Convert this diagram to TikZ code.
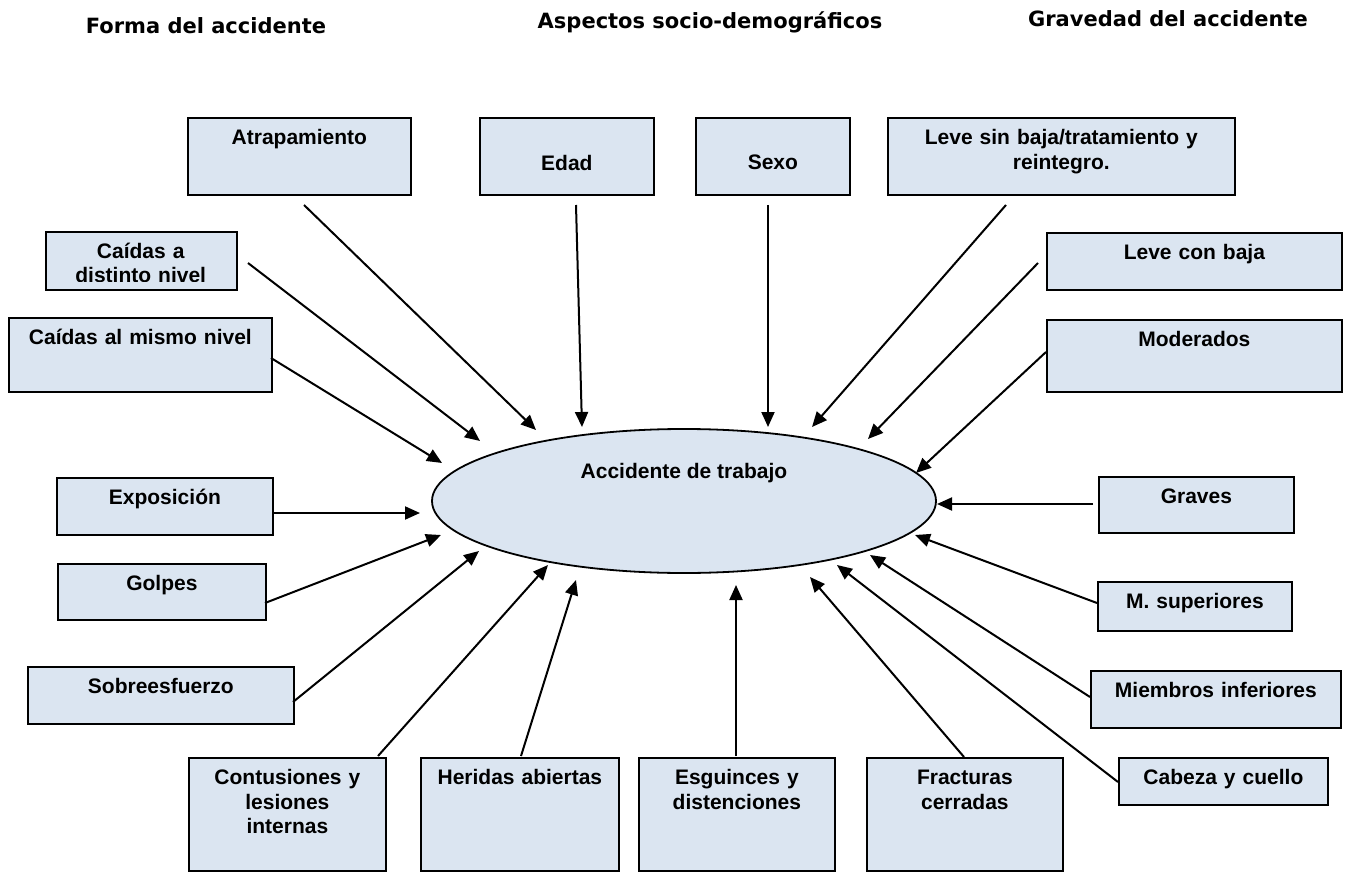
\documentclass[tikz,border=0pt]{standalone}
\usepackage{fontspec}
\setmainfont{Liberation Sans}
\newfontfamily\titulofont{DejaVu Sans}
\usetikzlibrary{arrows.meta,shapes.geometric}
\definecolor{azulcaja}{RGB}{219,229,241}

\begin{document}
\begin{tikzpicture}[x=1pt,y=-1pt,textocaja/.style={anchor=north west,inner sep=0pt,align=center,font=\fontsize{21}{24.5}\selectfont\bfseries,text height=27pt},caja/.style={textocaja,draw=black,line width=1.8pt,fill=azulcaja},titulo/.style={anchor=base,font=\titulofont\fontsize{21}{25}\selectfont\bfseries},flecha/.style={line width=2pt,-{Triangle[length=15pt,width=13pt]}},elip/.style={ellipse,draw=black,line width=1.8pt,fill=azulcaja,minimum width=504pt,minimum height=144pt,inner sep=0pt}]
\useasboundingbox (0,0) rectangle (1345,872);

% titulos
\node[titulo] (tforma) at (206,34) {Forma del accidente};
\node[titulo] (taspectos) at (710,29) {Aspectos socio-demográficos};
\node[titulo] (tgravedad) at (1168,27) {Gravedad del accidente};

% centro
\node[elip] (acc) at (684,501) {};
\node[anchor=base,font=\fontsize{21}{24.5}\selectfont\bfseries] (acctxt) at (684,478) {Accidente de trabajo};

% fila de arriba
\node[caja,text width=223pt,text depth=50pt] (atrap) at (187,117) {Atrapamiento};
\node[caja,text width=174pt,text height=53pt,text depth=24pt] (edad) at (479,117) {Edad};
\node[caja,text width=154pt,text height=52pt,text depth=25pt] (sexo) at (695,117) {Sexo};
\node[caja,text width=347pt,text depth=50pt] (levesin) at (887,117) {Leve sin baja/tratamiento y\\reintegro.};

% columna izquierda (el texto de la primera caja queda cortado abajo)
\node[caja,text width=191pt,text depth=31pt] (distinto) at (45,231) {};
\begin{scope}
\clip (45,231) rectangle (236,281);
\node[textocaja,text width=191pt] (distintotxt) at (45,231) {Caídas a\\distinto nivel};
\end{scope}
\node[caja,text width=263pt,text depth=47pt] (mismo) at (8,317) {Caídas al mismo nivel};
\node[caja,text width=216pt,text depth=30pt] (expo) at (56,477) {Exposición};
\node[caja,text width=208pt,text depth=29pt] (golpes) at (57,563) {Golpes};
\node[caja,text width=266pt,text depth=30pt] (sobre) at (27,666) {Sobreesfuerzo};

% columna derecha
\node[caja,text width=295pt,text depth=30pt] (levecon) at (1046,232) {Leve con baja};
\node[caja,text width=295pt,text depth=45pt] (moder) at (1046,319) {Moderados};
\node[caja,text width=195pt,text depth=29pt] (graves) at (1098,476) {Graves};
\node[caja,text width=194pt,text depth=22pt] (msup) at (1097,581) {M. superiores};
\node[caja,text width=250pt,text depth=30pt] (minf) at (1090,670) {Miembros inferiores};
\node[caja,text width=209pt,text depth=20pt] (cabeza) at (1118,757) {Cabeza y cuello};

% fila de abajo
\node[caja,text width=197pt,text depth=86pt] (contu) at (188,757) {Contusiones y\\lesiones\\internas};
\node[caja,text width=198pt,text depth=86pt] (heridas) at (420,757) {Heridas abiertas};
\node[caja,text width=196pt,text depth=86pt] (esguin) at (638,757) {Esguinces y\\distenciones};
\node[caja,text width=196pt,text depth=86pt] (fractu) at (866,757) {Fracturas\\cerradas};

% extremos de las flechas
\coordinate (atrap-a) at (304,205);     \coordinate (atrap-b) at (536,430);
\coordinate (edad-a) at (576,205);      \coordinate (edad-b) at (582,427);
\coordinate (sexo-a) at (768,205);      \coordinate (sexo-b) at (768,427);
\coordinate (levesin-a) at (1006,205);  \coordinate (levesin-b) at (812,427);
\coordinate (distinto-a) at (248,263);  \coordinate (distinto-b) at (480,441);
\coordinate (levecon-a) at (1038,263);  \coordinate (levecon-b) at (868,439);
\coordinate (mismo-a) at (271,358);     \coordinate (mismo-b) at (442,463);
\coordinate (moder-a) at (1046,352);    \coordinate (moder-b) at (916,473);
\coordinate (expo-a) at (272,513);      \coordinate (expo-b) at (420,513);
\coordinate (graves-a) at (1093,504);   \coordinate (graves-b) at (937,504);
\coordinate (golpes-a) at (265,603);    \coordinate (golpes-b) at (441,535);
\coordinate (msup-a) at (1097,603);     \coordinate (msup-b) at (915,535);
\coordinate (sobre-a) at (293,702);     \coordinate (sobre-b) at (479,551);
\coordinate (minf-a) at (1090,697);     \coordinate (minf-b) at (870,555);
\coordinate (contu-a) at (378,756);     \coordinate (contu-b) at (548,565);
\coordinate (cabeza-a) at (1118,782);   \coordinate (cabeza-b) at (837,565);
\coordinate (heridas-a) at (521,756);   \coordinate (heridas-b) at (576,580);
\coordinate (esguin-a) at (736,756);    \coordinate (esguin-b) at (736,585);
\coordinate (fractu-a) at (964,757);    \coordinate (fractu-b) at (810,577);

\foreach \n in {atrap,edad,sexo,levesin,distinto,levecon,mismo,moder,expo,graves,golpes,msup,sobre,minf,contu,cabeza,heridas,esguin,fractu}
  \draw[flecha] (\n-a) -- (\n-b);

\end{tikzpicture}
\end{document}
